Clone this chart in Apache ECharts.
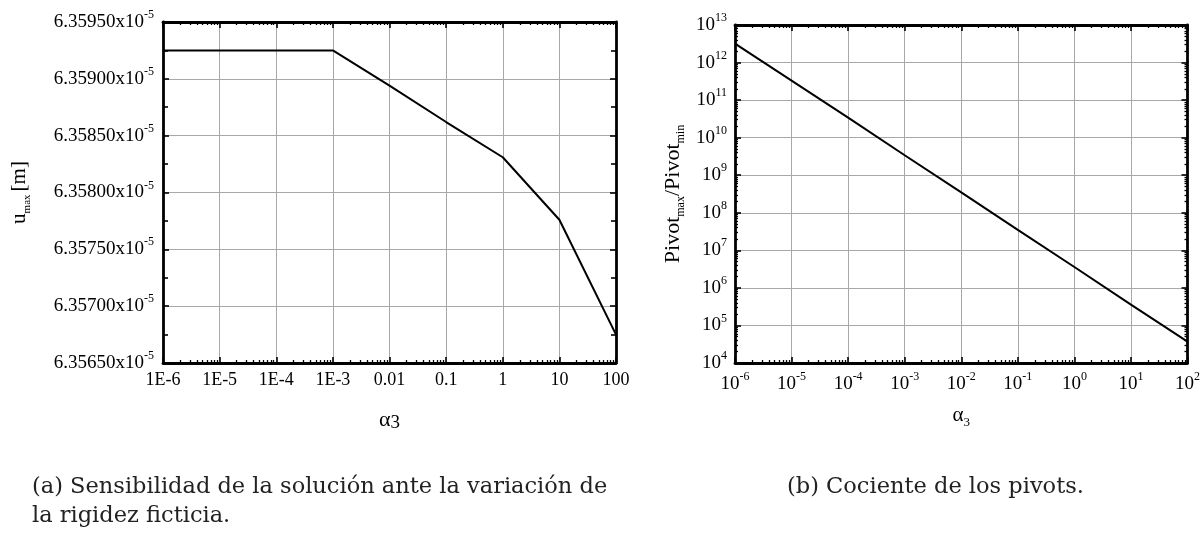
<!DOCTYPE html>
<html>
<head>
<meta charset="utf-8">
<script src="https://cdn.jsdelivr.net/npm/echarts@6/dist/echarts.min.js"></script>
<style>
  html, body { margin: 0; padding: 0; background: #fff; }
  #chart { width: 1203px; height: 534px; }
</style>
</head>
<body>
<div id="chart"></div>
<script>
  // alpha_3 (x of both plots)
  var alpha = [1e-6, 1e-5, 1e-4, 1e-3, 1e-2, 1e-1, 1, 10, 100];
  // u_max, in units of 1e-5 m
  var uMax = [6.35925, 6.35925, 6.35925, 6.35925, 6.35894, 6.35862, 6.35831, 6.35776, 6.35675];
  // Pivot_max / Pivot_min
  var pivotRatio = [3.2e12, 3.3e11, 3.4e10, 3.4e9, 3.5e8, 3.5e7, 3.6e6, 3.6e5, 3.7e4];
  // tick labels
  var alphaLabels = ['1E-6', '1E-5', '1E-4', '1E-3', '0.01', '0.1', '1', '10', '100'];
  var captionA = ['(a) Sensibilidad de la solución ante la variación de', 'la rigidez ficticia.'];
  var captionB = '(b) Cociente de los pivots.';

  var FONT = '"Liberation Serif", serif';
  var CAPFONT = '22.5px "DejaVu Serif"';
  var gridColor = '#a8a8a8';

  // minor ticks at 2..9 of every decade
  function minorLog(e0, e1) {
    var out = [];
    for (var e = e0; e < e1; e++) {
      for (var m = 2; m < 10; m++) out.push(m * Math.pow(10, e));
    }
    return out;
  }
  function expOf(v) { return Math.round(Math.log10(v)); }

  var frame = { show: true, onZero: false, lineStyle: { color: '#000', width: 2.8 } };
  var majorTick = { show: true, inside: true, length: 6, lineStyle: { color: '#000', width: 1.6 } };
  var noLabel = { show: false };
  var noSplit = { show: false };
  var split = { show: true, lineStyle: { color: gridColor, width: 1 } };
  var supStyle = { fontSize: 12, verticalAlign: 'top', fontFamily: FONT, color: '#000' };

  function logX(grid, pos, opts) {
    return Object.assign({
      type: 'log', gridIndex: grid, position: pos, min: 1e-6, max: 100,
      axisLine: frame, axisTick: majorTick, axisLabel: noLabel, splitLine: noSplit
    }, opts || {});
  }
  function minorAxis(grid, pos, values, min, max) {
    return {
      type: 'log', gridIndex: grid, position: pos, min: min, max: max,
      axisLine: { show: false }, axisLabel: noLabel, splitLine: noSplit,
      axisTick: { show: true, inside: true, length: 3, customValues: values, lineStyle: { color: '#000', width: 1.3 } }
    };
  }

  var chart = echarts.init(document.getElementById('chart'));
  chart.setOption({
    animation: false,
    textStyle: { fontFamily: FONT, color: '#000' },
    grid: [
      { left: 163, top: 22, right: 587, bottom: 171 },
      { left: 735, top: 25, right: 14, bottom: 171 }
    ],
    xAxis: [
      logX(0, 'bottom', {
        splitLine: split,
        axisLabel: {
          show: true, margin: 8, fontSize: 18, color: '#000', fontFamily: FONT,
          formatter: function (v) { return alphaLabels[expOf(v) + 6]; }
        },
        name: '{a|α}{t|3}', nameLocation: 'middle', nameGap: 44,
        nameTextStyle: {
          rich: {
            a: { fontSize: 22, lineHeight: 26, fontFamily: FONT, color: '#000' },
            t: { fontSize: 19, fontFamily: FONT, color: '#000', verticalAlign: 'bottom' }
          }
        }
      }),
      logX(0, 'top'),
      minorAxis(0, 'bottom', minorLog(-6, 2), 1e-6, 100),
      minorAxis(0, 'top', minorLog(-6, 2), 1e-6, 100),

      logX(1, 'bottom', {
        splitLine: split,
        axisLabel: {
          show: true, margin: 8, fontSize: 19, lineHeight: 26, color: '#000', fontFamily: FONT,
          formatter: function (v) { return '10{s|' + expOf(v) + '}'; },
          rich: { s: supStyle }
        },
        name: '{a|α}{t|3}', nameLocation: 'middle', nameGap: 38,
        nameTextStyle: {
          rich: {
            a: { fontSize: 21, lineHeight: 28, fontFamily: FONT, color: '#000' },
            t: { fontSize: 13, fontFamily: FONT, color: '#000', verticalAlign: 'bottom' }
          }
        }
      }),
      logX(1, 'top'),
      minorAxis(1, 'bottom', minorLog(-6, 2), 1e-6, 100),
      minorAxis(1, 'top', minorLog(-6, 2), 1e-6, 100)
    ],
    yAxis: [
      {
        type: 'value', gridIndex: 0, position: 'left',
        min: 6.3565, max: 6.3595, interval: 0.0005,
        axisLine: frame, axisTick: majorTick,
        minorTick: { show: true, splitNumber: 2, length: 5, lineStyle: { color: '#000', width: 1.6 } },
        splitLine: split,
        axisLabel: {
          margin: 9, fontSize: 19, lineHeight: 26, color: '#000', fontFamily: FONT,
          formatter: function (v) { return v.toFixed(5) + 'x10{s|-5}'; },
          rich: { s: supStyle }
        },
        name: '{b|u}{sub|max} {b|[m]}', nameLocation: 'middle', nameRotate: 90, nameGap: 130,
        nameTextStyle: {
          rich: {
            b: { fontSize: 21, lineHeight: 28, fontFamily: FONT, color: '#000' },
            sub: { fontSize: 11, fontFamily: FONT, color: '#000', verticalAlign: 'bottom' }
          }
        }
      },
      {
        type: 'value', gridIndex: 0, position: 'right',
        min: 6.3565, max: 6.3595, interval: 0.0005,
        axisLine: frame, axisTick: majorTick,
        minorTick: { show: true, splitNumber: 2, length: 5, lineStyle: { color: '#000', width: 1.6 } },
        splitLine: noSplit, axisLabel: noLabel
      },
      {
        type: 'log', gridIndex: 1, position: 'left', min: 1e4, max: 1e13,
        axisLine: frame, axisTick: majorTick, splitLine: split,
        axisLabel: {
          margin: 8, fontSize: 19, lineHeight: 26, color: '#000', fontFamily: FONT,
          formatter: function (v) { return '10{s|' + expOf(v) + '}'; },
          rich: { s: supStyle }
        },
        name: '{b|Pivot}{sub|max}{b|/Pivot}{sub|min}', nameLocation: 'middle', nameRotate: 90, nameGap: 48,
        nameTextStyle: {
          rich: {
            b: { fontSize: 22, lineHeight: 28, fontFamily: FONT, color: '#000' },
            sub: { fontSize: 12, fontFamily: FONT, color: '#000', verticalAlign: 'bottom' }
          }
        }
      },
      {
        type: 'log', gridIndex: 1, position: 'right', min: 1e4, max: 1e13,
        axisLine: frame, axisTick: majorTick, splitLine: noSplit, axisLabel: noLabel
      },
      minorAxis(1, 'left', minorLog(4, 13), 1e4, 1e13),
      minorAxis(1, 'right', minorLog(4, 13), 1e4, 1e13)
    ],
    series: [
      {
        type: 'line', xAxisIndex: 0, yAxisIndex: 0, symbol: 'none',
        lineStyle: { color: '#000', width: 2 },
        data: alpha.map(function (a, i) { return [a, uMax[i]]; })
      },
      {
        type: 'line', xAxisIndex: 4, yAxisIndex: 2, symbol: 'none',
        lineStyle: { color: '#000', width: 2 },
        data: alpha.map(function (a, i) { return [a, pivotRatio[i]]; })
      }
    ],
    graphic: [
      { type: 'text', left: 32, top: 476, style: { text: captionA[0], font: CAPFONT, fill: '#222' } },
      { type: 'text', left: 32, top: 505, style: { text: captionA[1], font: CAPFONT, fill: '#222' } },
      { type: 'text', left: 787, top: 476, style: { text: captionB, font: CAPFONT, fill: '#222' } }
    ]
  });
</script>
</body>
</html>
